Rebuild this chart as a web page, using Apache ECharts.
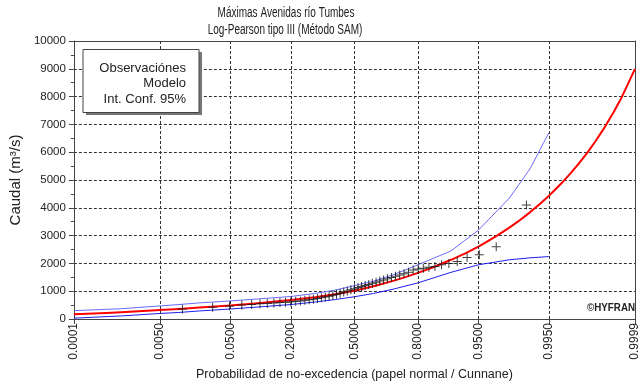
<!DOCTYPE html>
<html>
<head>
<meta charset="utf-8">
<title>Máximas Avenidas río Tumbes</title>
<script src="https://cdn.jsdelivr.net/npm/echarts@6/dist/echarts.min.js"></script>
<style>
  html, body { margin: 0; padding: 0; background: #ffffff; }
  #chart { width: 644px; height: 387px; }
</style>
</head>
<body>
<div id="chart"></div>
<script>
// Probability-paper tick marks (non-exceedance probability) and their labels
const tickProbs  = [0.0001, 0.005, 0.05, 0.2, 0.5, 0.8, 0.95, 0.995, 0.9999];
const tickLabels = ['0.0001', '0.0050', '0.0500', '0.2000', '0.5000', '0.8000', '0.9500', '0.9950', '0.9999'];

// Observed annual maximum floods (m³/s) with Cunnane plotting positions
const obsProb = [0.0113, 0.0301, 0.0489, 0.0677, 0.0865, 0.1053, 0.1241, 0.1429, 0.1617, 0.1805,
                 0.1992, 0.2180, 0.2368, 0.2556, 0.2744, 0.2932, 0.3120, 0.3308, 0.3496, 0.3684,
                 0.3872, 0.4060, 0.4248, 0.4436, 0.4624, 0.4812, 0.5000, 0.5188, 0.5376, 0.5564,
                 0.5752, 0.5940, 0.6128, 0.6316, 0.6504, 0.6692, 0.6880, 0.7068, 0.7256, 0.7444,
                 0.7632, 0.7820, 0.8008, 0.8195, 0.8383, 0.8571, 0.8759, 0.8947, 0.9135, 0.9323,
                 0.9511, 0.9699, 0.9887];
const obsFlow = [360, 420, 465, 505, 525, 545, 560, 575, 590, 605,
                 620, 635, 650, 670, 690, 710, 735, 760, 790, 820,
                 855, 890, 930, 970, 1010, 1050, 1090, 1130, 1170, 1205,
                 1245, 1285, 1325, 1365, 1405, 1450, 1490, 1540, 1580, 1625,
                 1680, 1760, 1800, 1830, 1860, 1890, 1950, 2000, 2070, 2210,
                 2310, 2600, 4100];

// Fitted Log-Pearson III quantiles
const modelProb = [0.0001, 0.0005, 0.001, 0.005, 0.01, 0.02, 0.05, 0.1, 0.2, 0.3, 0.4, 0.5, 0.6,
                   0.7, 0.75, 0.8, 0.85, 0.9, 0.93, 0.95, 0.97, 0.98, 0.985, 0.99, 0.993, 0.995,
                   0.997, 0.998, 0.9985, 0.999, 0.9993, 0.9995, 0.9997, 0.9998, 0.9999];
const modelFlow = [172, 218, 244, 324, 363, 410, 490, 565, 680, 780, 890, 1015, 1180,
                   1380, 1506, 1660, 1851, 2130, 2371, 2606, 2978, 3285, 3510, 3836, 4136, 4426,
                   4890, 5281, 5572, 5996, 6393, 6784, 7419, 7962, 9000];

// 95 % confidence limits
const ciProb  = [0.0001, 0.001, 0.005, 0.01, 0.02, 0.05, 0.1, 0.2, 0.3, 0.4, 0.5, 0.6, 0.7,
                 0.8, 0.9, 0.95, 0.98, 0.99, 0.995];
const ciUpper = [300, 370, 470, 520, 580, 650, 720, 810, 920, 1040, 1200, 1360, 1600,
                 1950, 2450, 3200, 4350, 5400, 6690];
const ciLower = [30, 110, 200, 235, 290, 360, 430, 520, 610, 700, 800, 920, 1080,
                 1300, 1680, 1950, 2130, 2200, 2245];

// Inverse standard normal CDF (Acklam) — maps probabilities onto normal paper
function probit(p) {
  const a = [-3.969683028665376e+01, 2.209460984245205e+02, -2.759285104469687e+02,
             1.383577518672690e+02, -3.066479806614716e+01, 2.506628277459239e+00];
  const b = [-5.447609879822406e+01, 1.615858368580409e+02, -1.556989798598866e+02,
             6.680131188771972e+01, -1.328068155288572e+01];
  const c = [-7.784894002430293e-03, -3.223964580411365e-01, -2.400758277161838e+00,
             -2.549732539343734e+00, 4.374664141464968e+00, 2.938163982698783e+00];
  const d = [7.784695709041462e-03, 3.224671290700398e-01, 2.445134137142996e+00,
             3.754408661907416e+00];
  const pl = 0.02425, ph = 1 - pl;
  let q, r;
  if (p < pl) {
    q = Math.sqrt(-2 * Math.log(p));
    return (((((c[0]*q + c[1])*q + c[2])*q + c[3])*q + c[4])*q + c[5]) /
           ((((d[0]*q + d[1])*q + d[2])*q + d[3])*q + 1);
  }
  if (p <= ph) {
    q = p - 0.5; r = q * q;
    return (((((a[0]*r + a[1])*r + a[2])*r + a[3])*r + a[4])*r + a[5]) * q /
           (((((b[0]*r + b[1])*r + b[2])*r + b[3])*r + b[4])*r + 1);
  }
  q = Math.sqrt(-2 * Math.log(1 - p));
  return -(((((c[0]*q + c[1])*q + c[2])*q + c[3])*q + c[4])*q + c[5]) /
          ((((d[0]*q + d[1])*q + d[2])*q + d[3])*q + 1);
}

const pairs = (ps, vs) => ps.map((p, i) => [probit(p), vs[i]]);
const tickZ = tickProbs.map(probit);
const zMin = tickZ[0], zMax = tickZ[tickZ.length - 1];
const labelFor = v => {
  let best = 0;
  tickZ.forEach((z, i) => { if (Math.abs(z - v) < Math.abs(tickZ[best] - v)) best = i; });
  return tickLabels[best];
};

const FONT = "'Liberation Sans', Arial, sans-serif";
const INK = '#222';
const gridDash = { color: '#333', width: 1, type: [3, 2] };

// condensed text (titles drawn with a horizontal squeeze)
const narrowText = (text, x, y, size, sx) => ({
  type: 'text', x: x, y: y, scaleX: sx, z: 22,
  style: { text: text, align: 'center', verticalAlign: 'middle', font: size + 'px ' + FONT, fill: INK }
});

const chart = echarts.init(document.getElementById('chart'), null, { renderer: 'canvas' });

chart.setOption({
  animation: false,
  backgroundColor: '#ffffff',
  textStyle: { fontFamily: FONT, color: INK },
  grid: { left: 71, right: 9, top: 41, bottom: 68, containLabel: false },
  xAxis: [{
    type: 'value', min: zMin, max: zMax,
    name: 'Probabilidad de no-excedencia (papel normal / Cunnane)',
    nameLocation: 'middle', nameGap: 49,
    nameTextStyle: { fontFamily: FONT, fontSize: 12.5, color: INK },
    axisLine: { onZero: false, lineStyle: { color: '#444', width: 1 } },
    axisTick: { show: true, length: 5, lineStyle: { color: '#444' }, customValues: tickZ },
    axisLabel: {
      rotate: 90, margin: 4, fontFamily: FONT, fontSize: 12, color: INK,
      customValues: tickZ, formatter: labelFor, showMinLabel: true, showMaxLabel: true
    },
    splitLine: { show: false }
  }, {
    type: 'value', min: zMin, max: zMax, position: 'top',
    axisLine: { show: true, onZero: false, lineStyle: { color: '#444', width: 1 } },
    axisTick: { show: false }, axisLabel: { show: false }, splitLine: { show: false }
  }],
  yAxis: [{
    type: 'value', min: 0, max: 10000, interval: 1000,
    name: 'Caudal (m³/s)', nameLocation: 'middle', nameGap: 47, nameRotate: 90,
    nameTextStyle: { fontFamily: FONT, fontSize: 15, color: INK },
    axisLine: { show: true, onZero: false, lineStyle: { color: '#444', width: 1 } },
    axisTick: { show: true, length: 5, lineStyle: { color: '#444' } },
    minorTick: { show: true, splitNumber: 2, length: 3, lineStyle: { color: '#444' } },
    axisLabel: { margin: 8, fontFamily: FONT, fontSize: 11.5, color: INK, formatter: v => String(v) },
    splitLine: { show: true, lineStyle: gridDash }
  }, {
    type: 'value', min: 0, max: 10000, position: 'right',
    axisLine: { show: true, onZero: false, lineStyle: { color: '#444', width: 1 } },
    axisTick: { show: false }, axisLabel: { show: false }, splitLine: { show: false }
  }],
  graphic: [
    narrowText('Máximas Avenidas río Tumbes', 286, 13, 14, 0.715),
    narrowText('Log-Pearson tipo III (Método SAM)', 285, 30, 14, 0.715),
    { type: 'rect', shape: { x: 86, y: 52, width: 116, height: 63 }, style: { fill: '#777' }, z: 20 },
    { type: 'rect', shape: { x: 83, y: 49.5, width: 116, height: 63 },
      style: { fill: '#ffffff', stroke: '#444', lineWidth: 1 }, z: 21 },
    { type: 'text', x: 186, y: 68, z: 22,
      style: { text: 'Observaciónes', align: 'right', verticalAlign: 'middle', font: '13px ' + FONT, fill: INK } },
    { type: 'text', x: 186, y: 83, z: 22,
      style: { text: 'Modelo', align: 'right', verticalAlign: 'middle', font: '13px ' + FONT, fill: INK } },
    { type: 'text', x: 186, y: 99, z: 22,
      style: { text: 'Int. Conf. 95%', align: 'right', verticalAlign: 'middle', font: '13px ' + FONT, fill: INK } },
    { type: 'text', x: 635, y: 308, z: 22, scaleX: 0.85,
      style: { text: '©HYFRAN', align: 'right', verticalAlign: 'middle', font: 'bold 11.5px ' + FONT, fill: INK } }
  ],
  series: [
    {
      // vertical grid lines on the probability ticks
      name: 'grid', type: 'line', data: [], z: 1, silent: true,
      markLine: {
        silent: true, symbol: 'none', label: { show: false },
        lineStyle: gridDash, animation: false,
        data: tickZ.slice(1, -1).map(z => ({ xAxis: z }))
      }
    },
    {
      name: 'Int. Conf. 95% (sup.)', type: 'line', data: pairs(ciProb, ciUpper),
      showSymbol: false, z: 3, lineStyle: { color: '#6a6aff', width: 1 }
    },
    {
      name: 'Int. Conf. 95% (inf.)', type: 'line', data: pairs(ciProb, ciLower),
      showSymbol: false, z: 3, lineStyle: { color: '#1e1ef0', width: 1 }
    },
    {
      name: 'Modelo', type: 'line', data: pairs(modelProb, modelFlow),
      showSymbol: false, smooth: false, z: 4,
      lineStyle: { color: '#ff0000', width: 2, join: 'round' }
    },
    {
      name: 'Observaciónes', type: 'scatter', data: pairs(obsProb, obsFlow), z: 5,
      symbol: 'path://M4,0h1v4h4v1h-4v4h-1v-4h-4v-1h4z', symbolSize: 9,
      itemStyle: { color: '#111' }
    }
  ]
});
</script>
</body>
</html>
